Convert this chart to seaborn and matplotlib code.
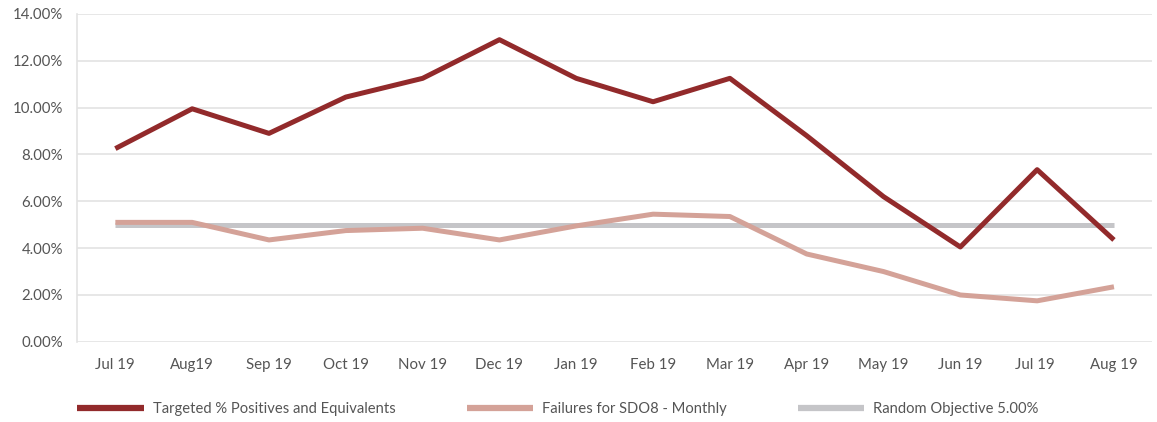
import matplotlib
matplotlib.use("Agg")
import matplotlib.pyplot as plt
import seaborn as sns
import pandas as pd
from matplotlib.ticker import FuncFormatter
from matplotlib.lines import Line2D

months = ["Jul 19", "Aug19", "Sep 19", "Oct 19", "Nov 19", "Dec 19", "Jan 19",
          "Feb 19", "Mar 19", "Apr 19", "May 19", "Jun 19", "Jul 19 ", "Aug 19"]
targeted = [8.25, 9.95, 8.9, 10.45, 11.25, 12.9, 11.25, 10.25, 11.25, 8.8, 6.2, 4.05, 7.35, 4.35]
failures = [5.1, 5.1, 4.35, 4.75, 4.85, 4.35, 4.95, 5.45, 5.35, 3.75, 3.0, 2.0, 1.75, 2.35]
objective = [5.0] * len(months)
series_names = ["Targeted % Positives and Equivalents", "Failures for SDO8 - Monthly",
                "Random Objective 5.00%"]
yticks = [0, 2, 4, 6, 8, 10, 12, 14]

sns.set_theme(style="white")
plt.rcParams['font.family'] = ['Lato', 'DejaVu Sans']

df = pd.DataFrame({
    "month": months * 3,
    "value": objective + targeted + failures,
    "series": [series_names[2]] * len(months) + [series_names[0]] * len(months)
              + [series_names[1]] * len(months),
})
df["x"] = list(range(len(months))) * 3

palette = {series_names[0]: "#922A2B", series_names[1]: "#D4A298", series_names[2]: "#C5C5C8"}

fig, ax = plt.subplots(figsize=(11.57, 4.22), dpi=100)
fig.subplots_adjust(left=0.0665, right=0.996, top=0.967, bottom=0.19)

sns.lineplot(data=df, x="x", y="value", hue="series", palette=palette,
             hue_order=[series_names[2], series_names[1], series_names[0]],
             linewidth=3.6, ax=ax, legend=False, sort=False)
for ln in ax.lines:
    ln.set_solid_capstyle("butt")

ax.set_xlim(-0.5, len(months) - 0.5)
ax.set_ylim(0, 14)
ax.set_xticks(range(len(months)))
ax.set_xticklabels(months)
ax.set_yticks(yticks)
ax.yaxis.set_major_formatter(FuncFormatter(lambda v, p: f"{v:.2f}%"))
ax.set_xlabel("")
ax.set_ylabel("")
ax.grid(axis="y", color="#E3E3E3", linewidth=1.2)
ax.set_axisbelow(True)
for s in ["top", "right", "bottom"]:
    ax.spines[s].set_visible(False)
ax.spines["left"].set_color("#E3E3E3")
ax.spines["left"].set_linewidth(1.2)
ax.tick_params(axis="both", length=0, labelsize=10.8, labelcolor="#555555")
ax.tick_params(axis="x", pad=12)
ax.tick_params(axis="y", pad=10)

handles = [Line2D([], [], color=palette[n], linewidth=4.5, solid_capstyle="butt")
           for n in series_names]
fig.legend(handles, series_names, loc="lower left", bbox_to_anchor=(0.0555, -0.018),
           ncol=3, frameon=False, handlelength=4.5, handletextpad=0.6,
           columnspacing=4.85, fontsize=10.6, labelcolor="#555555")

fig.savefig("out.png", dpi=100)
